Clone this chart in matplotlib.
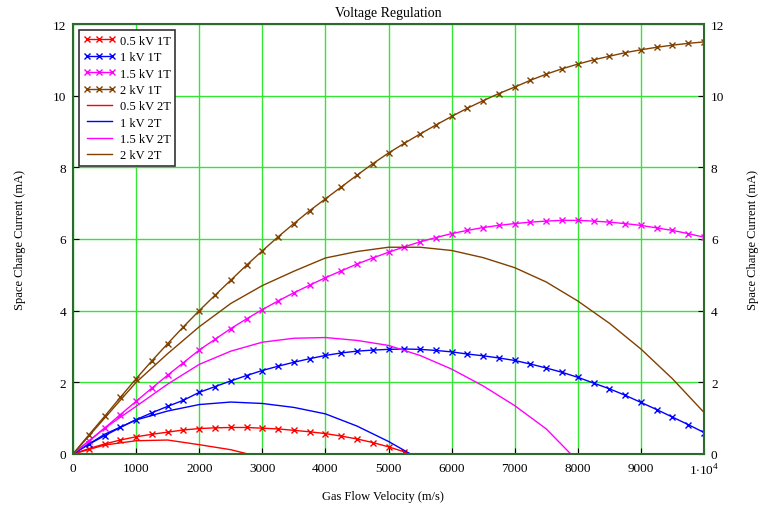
import numpy as np
import matplotlib
matplotlib.use("Agg")
import matplotlib.pyplot as plt

plt.rcParams["font.family"] = ["Liberation Serif", "DejaVu Serif"]
plt.rcParams["mathtext.fontset"] = "custom"
plt.rcParams["mathtext.rm"] = "Liberation Serif"

# gas flow velocity (m/s)
v_1t = np.arange(0, 10001, 250)
v_2t = np.arange(0, 10001, 500)

# space charge current (mA), one-term model
i_05_1t = [0, 0.15, 0.28, 0.39, 0.48, 0.55, 0.61, 0.67, 0.71, 0.73, 0.74, 0.74, 0.72,
           0.70, 0.66, 0.62, 0.57, 0.50, 0.42, 0.32, 0.20, 0.06, -0.10]
i_1_1t = [0, 0.27, 0.51, 0.74, 0.96, 1.15, 1.33, 1.50, 1.72, 1.88, 2.04, 2.19, 2.33,
          2.45, 2.56, 2.66, 2.75, 2.82, 2.87, 2.90, 2.92, 2.93, 2.92, 2.89, 2.85, 2.79,
          2.74, 2.68, 2.61, 2.51, 2.40, 2.28, 2.14, 1.98, 1.82, 1.64, 1.44, 1.24, 1.03,
          0.82, 0.60]
i_15_1t = [0, 0.36, 0.72, 1.10, 1.47, 1.84, 2.20, 2.55, 2.90, 3.20, 3.50, 3.77, 4.03,
           4.27, 4.50, 4.71, 4.92, 5.11, 5.30, 5.47, 5.63, 5.78, 5.92, 6.04, 6.15, 6.24,
           6.32, 6.38, 6.43, 6.47, 6.50, 6.52, 6.52, 6.50, 6.47, 6.43, 6.38, 6.31, 6.24,
           6.15, 6.05]
i_2_1t = [0, 0.53, 1.05, 1.58, 2.10, 2.60, 3.08, 3.55, 4.00, 4.43, 4.85, 5.27, 5.67,
          6.06, 6.43, 6.79, 7.12, 7.45, 7.78, 8.10, 8.40, 8.67, 8.93, 9.18, 9.42, 9.65,
          9.86, 10.06, 10.24, 10.43, 10.60, 10.75, 10.88, 11.00, 11.10, 11.20, 11.28,
          11.35, 11.41, 11.46, 11.50]

# space charge current (mA), two-term model
i_05_2t = [0, 0.25, 0.37, 0.39, 0.26, 0.12, -0.10]
i_1_2t = [0, 0.55, 0.95, 1.20, 1.38, 1.45, 1.41, 1.30, 1.12, 0.78, 0.35, -0.15]
i_15_2t = [0, 0.72, 1.33, 1.95, 2.50, 2.87, 3.12, 3.23, 3.25, 3.17, 3.03, 2.75, 2.37,
           1.90, 1.35, 0.70, -0.20]
i_2_2t = [0, 1.00, 2.00, 2.80, 3.55, 4.20, 4.70, 5.10, 5.47, 5.65, 5.77, 5.77, 5.68,
          5.48, 5.20, 4.80, 4.27, 3.65, 2.93, 2.10, 1.16]

labels_1t = ["0.5 kV 1T", "1 kV 1T", "1.5 kV 1T", "2 kV 1T"]
labels_2t = ["0.5 kV 2T", "1 kV 2T", "1.5 kV 2T", "2 kV 2T"]
colors = ["#ff0000", "#0000ff", "#ff00ff", "#804000"]

fig = plt.figure(figsize=(7.61, 5.10), dpi=100)
ax = fig.add_axes([73 / 761, 55 / 510, 631 / 761, 430 / 510])

for y, lab, c in zip([i_05_1t, i_1_1t, i_15_1t, i_2_1t], labels_1t, colors):
    ax.plot(v_1t[:len(y)], y, color=c, lw=1.0, marker="x", ms=5, mew=1.0, label=lab)
for y, lab, c in zip([i_05_2t, i_1_2t, i_15_2t, i_2_2t], labels_2t, colors):
    ax.plot(v_2t[:len(y)], y, color=c, lw=1.0, label=lab)

ax.set_xlim(0, 10000)
ax.set_ylim(0, 12)
ax.set_xticks(np.arange(0, 10001, 1000))
ax.set_xticklabels([str(t) for t in range(0, 10000, 1000)] + [r"1$\cdot$10$^4$"])
ax.set_yticks(np.arange(0, 13, 2))
ax.grid(True, color="#33e633", lw=1.0)
ax.set_axisbelow(True)
for s in ax.spines.values():
    s.set_color("#2d6a2d")
    s.set_linewidth(1.5)
ax.tick_params(axis="both", direction="in", length=4, color="black",
               labelsize=9.5, pad=6)
ax.tick_params(axis="y", right=True, labelright=True, pad=5)

ax.set_title("Voltage Regulation", fontsize=10, pad=6)
fig.text(383 / 761, 1 - 497 / 510, "Gas Flow Velocity (m/s)", fontsize=9,
         ha="center", va="center")
fig.text(20 / 761, 1 - 240 / 510, "Space Charge Current (mA)", fontsize=9,
         rotation=90, ha="center", va="center")
fig.text(753 / 761, 1 - 240 / 510, "Space Charge Current (mA)", fontsize=9,
         rotation=90, ha="center", va="center")

leg = ax.legend(loc="upper left", bbox_to_anchor=(0.009, 0.985), borderaxespad=0,
                fontsize=9, numpoints=3, handlelength=2.6, labelspacing=0.35,
                handletextpad=0.35, borderpad=0.35, fancybox=False, framealpha=1)
leg.get_frame().set_edgecolor("#333333")
leg.get_frame().set_linewidth(1.2)

fig.savefig("out.png", dpi=100)
